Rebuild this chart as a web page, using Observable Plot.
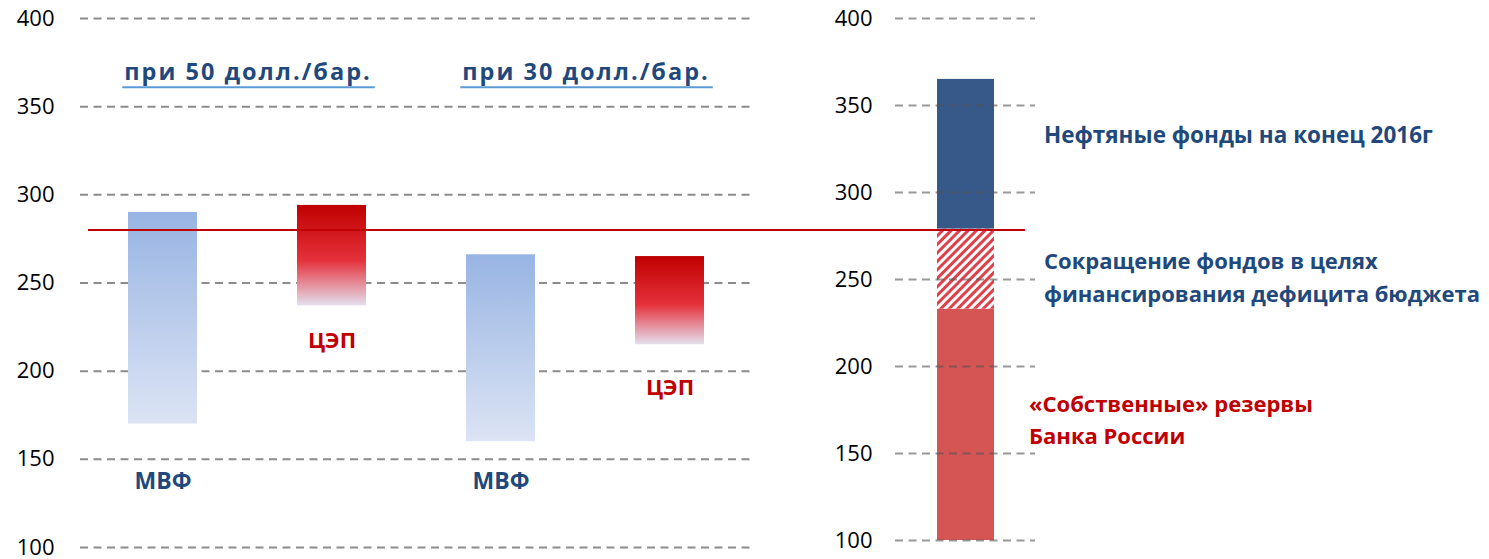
<!DOCTYPE html>
<html><head><meta charset="utf-8">
<script src="https://cdn.jsdelivr.net/npm/d3@7"></script>
<script src="https://cdn.jsdelivr.net/npm/@observablehq/plot@0.6"></script>
<style>
body{margin:0;background:#fff;}
#chart{position:relative;width:1489px;height:559px;}
#chart svg{position:absolute;left:0;top:0;}
</style></head><body><div id="chart"></div>
<script>
// ---- data ----
const yTicks = [100, 150, 200, 250, 300, 350, 400];
const barKeys = ["МВФ-50", "ЦЭП-50", "МВФ-30", "ЦЭП-30"];
const barSource = ["МВФ", "ЦЭП", "МВФ", "ЦЭП"];
const barLow = [170, 237, 160, 215];
const barHigh = [290, 294, 266, 265];
const scenarioKeys = ["МВФ-50", "МВФ-30"];
const scenarioTitles = ["при 50 долл./бар.", "при 30 долл./бар."];
const thresholdValue = [280];
const fundKey = ["Фонды"];
const fundSegments = ["«Собственные» резервы\nБанка России", "Сокращение фондов в целях\nфинансирования дефицита бюджета", "Нефтяные фонды на конец 2016г"];
const fundLow = [100, 233, 279];
const fundHigh = [233, 279, 365];

// ---- tables ----
const bars = barKeys.map((k, i) => ({key: k, source: barSource[i], low: barLow[i], high: barHigh[i]}));
const titles = scenarioTitles.map((t, i) => ({key: scenarioKeys[i], text: t}));
const funds = fundSegments.map((s, i) => ({key: fundKey[0], label: s, low: fundLow[i], high: fundHigh[i], mid: (fundLow[i] + fundHigh[i]) / 2}));

const W = 1489, H = 559;
const FONT = "'Open Sans', Lato, sans-serif";
const BLUE = "#1f497d", RED = "#c00000";
const baseStyle = {background: "transparent", overflow: "visible", fontFamily: FONT, fontSize: "22px", color: "black"};

const right = Plot.plot({
  width: W, height: H, marginTop: 18, marginBottom: 19, marginLeft: 895, marginRight: W - 1035,
  style: baseStyle,
  x: {domain: fundKey, paddingInner: 0, paddingOuter: 0.728, axis: null},
  y: {domain: [100, 400], ticks: yTicks, tickSize: 0, tickPadding: 23, label: null},
  marks: [
    Plot.barY(funds.slice(0, 1), {x: "key", y1: "low", y2: "high", fill: "#d55454"}),
    Plot.barY(funds.slice(1, 2), {x: "key", y1: "low", y2: "high", fill: "url(#hatch)"}),
    Plot.barY(funds.slice(2, 3), {x: "key", y1: "low", y2: "high", fill: "#36598a"}),
    Plot.ruleY(yTicks, {stroke: "#555", strokeOpacity: 0.6, strokeWidth: 2, strokeDasharray: "8,5.5"}),
    Plot.text(funds.slice(2, 3), {x: "key", y: "mid", text: "label", dx: 78, dy: -18, textAnchor: "start", fill: BLUE, fontWeight: "bold", fontSize: 22.5}),
    Plot.text(funds.slice(1, 2), {x: "key", y: "mid", text: "label", dx: 78, dy: 6, textAnchor: "start", fill: BLUE, fontWeight: "bold", fontSize: 22, lineHeight: 1.5}),
    Plot.text(funds.slice(0, 1), {x: "key", y: "mid", text: "label", dx: 63, dy: -7, textAnchor: "start", fill: RED, fontWeight: "bold", fontSize: 22, lineHeight: 1.45})
  ]
});

const left = Plot.plot({
  width: W, height: H, marginTop: 18, marginBottom: 12, marginLeft: 80, marginRight: W - 1025,
  style: baseStyle,
  x: {domain: barKeys, range: [80, 752], paddingInner: 0.59, paddingOuter: 0.283, axis: null},
  y: {domain: [100, 400], ticks: yTicks, tickSize: 0, tickPadding: 26, label: null},
  marks: [
    Plot.ruleY(yTicks, {stroke: "#8c8c8c", strokeWidth: 2, strokeDasharray: "8,5.5", insetRight: 1025 - 752}),
    Plot.barY(bars.filter(d => d.source === "МВФ"), {x: "key", y1: "low", y2: "high", fill: "url(#gradMVF)"}),
    Plot.barY(bars.filter(d => d.source === "ЦЭП"), {x: "key", y1: "low", y2: "high", fill: "url(#gradCEP)"}),
    Plot.ruleY(thresholdValue, {stroke: RED, strokeWidth: 2, insetLeft: 8}),
    Plot.text(bars.filter(d => d.key === "ЦЭП-50"), {x: "key", y: "low", text: "source", dy: 35, fill: RED, fontWeight: "bold", fontSize: 22}),
    Plot.text(bars.filter(d => d.key === "ЦЭП-30"), {x: "key", y: "low", text: "source", dy: 43, fill: RED, fontWeight: "bold", fontSize: 22}),
    Plot.text(bars.filter(d => d.source === "МВФ"), {x: "key", text: "source", frameAnchor: "bottom", dy: -59, fill: BLUE, fontWeight: "bold", fontSize: 23}),
    Plot.text(titles, {x: "key", text: "text", frameAnchor: "top", dy: 45, dx: 85, fill: BLUE, fontWeight: "bold", fontSize: 23.5})
  ]
});

const chart = document.getElementById("chart");
chart.appendChild(right);
chart.appendChild(left);

// gradient / pattern definitions
const defs = d3.select(left).insert("defs", ":first-child");
const gM = defs.append("linearGradient").attr("id", "gradMVF").attr("x1", 0).attr("y1", 0).attr("x2", 0).attr("y2", 1);
gM.append("stop").attr("offset", "0%").attr("stop-color", "#98b4e3");
gM.append("stop").attr("offset", "100%").attr("stop-color", "#dce4f4");
const gC = defs.append("linearGradient").attr("id", "gradCEP").attr("x1", 0).attr("y1", 0).attr("x2", 0).attr("y2", 1);
gC.append("stop").attr("offset", "0%").attr("stop-color", "#c00000");
gC.append("stop").attr("offset", "55%").attr("stop-color", "#e5313b");
gC.append("stop").attr("offset", "100%").attr("stop-color", "#e4e0ee");
const pat = defs.append("pattern").attr("id", "hatch").attr("patternUnits", "userSpaceOnUse")
  .attr("width", 6).attr("height", 6).attr("patternTransform", "rotate(45)");
pat.append("rect").attr("width", 6).attr("height", 6).attr("fill", "white");
pat.append("rect").attr("width", 3).attr("height", 6).attr("fill", "#e0404a");

// widen the scenario titles slightly and underline them
const svgRect = left.getBoundingClientRect();
d3.select(left).selectAll("text").filter(function () { return scenarioTitles.includes(this.textContent); })
  .style("letter-spacing", "2px")
  .each(function () {
    const b = this.getBoundingClientRect();
    const x0 = b.left - svgRect.left, x1 = b.right - svgRect.left;
    const cy = b.top - svgRect.top + b.height / 2 + 16;
    d3.select(left).append("line")
      .attr("x1", x0 - 2).attr("x2", x1 + 3)
      .attr("y1", cy).attr("y2", cy)
      .attr("stroke", "#5b9bd5").attr("stroke-width", 2);
  });
</script>
</body></html>
